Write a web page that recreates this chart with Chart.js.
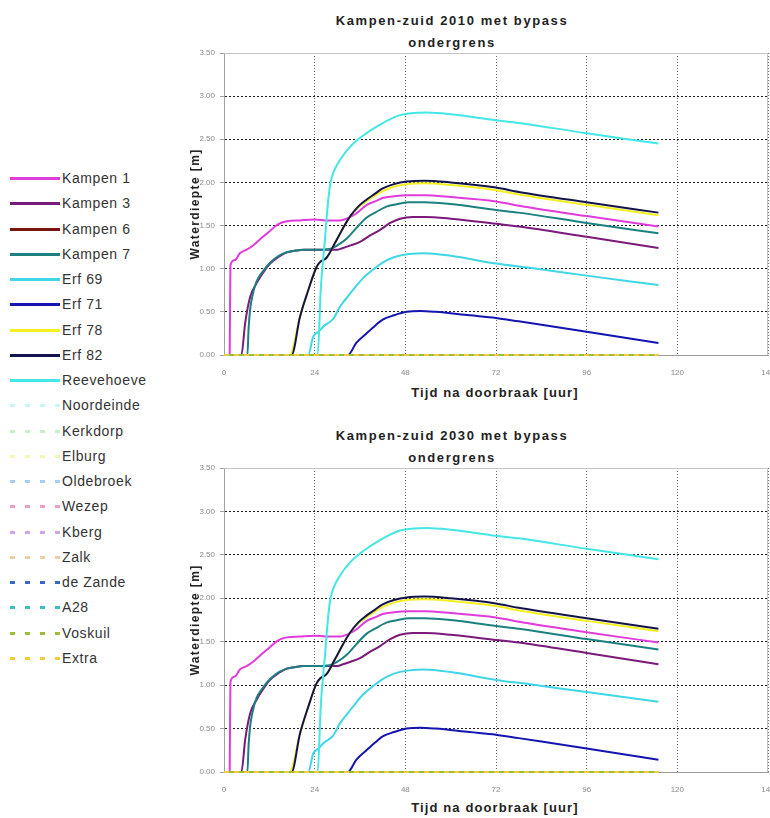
<!DOCTYPE html>
<html>
<head>
<meta charset="utf-8">
<script src="https://cdn.jsdelivr.net/npm/chart.js@4.4.0/dist/chart.umd.min.js"></script>
<style>
    body { margin: 0; background: #fff; width: 770px; height: 818px; overflow: hidden; position: relative; font-family: 'Liberation Sans', Arial, sans-serif; }
    .chart-box { position: absolute; left: 180px; width: 590px; }
    .title { position: absolute; left: 252px; width: 400px; text-align: center; font: bold 13px 'Liberation Sans', Arial, sans-serif; letter-spacing: 1.6px; color: #222; line-height: 22px; white-space: nowrap; }
    .xtitle { position: absolute; left: 345px; width: 300px; text-align: center; font: bold 13px 'Liberation Sans', Arial, sans-serif; letter-spacing: 1.1px; color: #222; line-height: 22px; white-space: nowrap; }
    .ytitle { position: absolute; left: 126px; width: 140px; height: 16px; line-height: 16px; text-align: center; font: bold 12px 'Liberation Sans', Arial, sans-serif; letter-spacing: 1.4px; color: #222; transform: rotate(-90deg); white-space: nowrap; }
    .leg-item { position: absolute; left: 0; height: 20px; width: 180px; }
    .leg-swatch { position: absolute; left: 10px; top: 9px; width: 50px; height: 3px; }
    .leg-text { position: absolute; left: 62px; top: 1px; font-size: 14px; line-height: 18px; color: #333; letter-spacing: 0.6px; white-space: nowrap; }
</style>
</head>
<body>

<div class="title" style="top:10px;">Kampen-zuid 2010 met bypass<br>ondergrens</div>
<div class="chart-box" style="top:0px; height:380px;"><canvas id="chart2010" width="590" height="380"></canvas></div>
<div class="ytitle" style="top:196px;">Waterdiepte [m]</div>
<div class="xtitle" style="top:382px;">Tijd na doorbraak [uur]</div>

<div class="title" style="top:425px;">Kampen-zuid 2030 met bypass<br>ondergrens</div>
<div class="chart-box" style="top:415px; height:382px;"><canvas id="chart2030" width="590" height="382"></canvas></div>
<div class="ytitle" style="top:612px;">Waterdiepte [m]</div>
<div class="xtitle" style="top:797px;">Tijd na doorbraak [uur]</div>

<div id="legend"></div>

<script>
// Tijd na doorbraak [uur] / waterdiepte [m] per locatie (both scenarios look identical)
const kampen1Time  = [0, 1.5, 1.7, 2.9, 4.2, 6, 7.7, 10.3, 12, 13.5, 15, 16.7, 20, 24, 27, 29, 30.7, 33, 35, 37.8, 40, 42, 45, 49, 53, 60, 72, 78, 96, 115];
const kampen1Depth = [0, 0, 1.04, 1.10, 1.18, 1.22, 1.27, 1.37, 1.43, 1.49, 1.53, 1.55, 1.56, 1.57, 1.56, 1.56, 1.56, 1.59, 1.64, 1.74, 1.78, 1.82, 1.84, 1.85, 1.85, 1.83, 1.78, 1.73, 1.61, 1.49];

const kampen3Time  = [0, 4.6, 5.6, 6.9, 8.6, 10.3, 12.2, 14.5, 16.6, 19, 21, 24, 28, 30, 31.5, 33.5, 36, 38.5, 41.3, 44, 46.6, 50, 53, 60, 72, 78, 96, 115];
const kampen3Depth = [0, 0, 0.37, 0.67, 0.83, 0.95, 1.06, 1.14, 1.19, 1.21, 1.22, 1.22, 1.22, 1.22, 1.24, 1.27, 1.31, 1.38, 1.45, 1.53, 1.58, 1.60, 1.60, 1.58, 1.52, 1.49, 1.37, 1.24];

const kampen6Time  = [0, 115];
const kampen6Depth = [0, 0];

const kampen7Time  = [0, 6.2, 6.5, 6.9, 7.5, 8.6, 10.3, 12.2, 14.5, 16.6, 19, 21, 24, 28, 30, 32.5, 35, 37.7, 40, 43, 46, 49, 53, 60, 72, 78, 96, 115];
const kampen7Depth = [0, 0, 0.30, 0.52, 0.68, 0.85, 0.97, 1.07, 1.15, 1.19, 1.21, 1.22, 1.22, 1.23, 1.27, 1.35, 1.47, 1.59, 1.65, 1.72, 1.75, 1.77, 1.77, 1.75, 1.68, 1.65, 1.53, 1.41];

const erf69Time  = [0, 22.3, 23.6, 25, 26.3, 28.9, 30.7, 33, 35, 37, 39.5, 42, 44.8, 49, 53, 60, 72, 81, 96, 115];
const erf69Depth = [0, 0, 0.21, 0.27, 0.33, 0.42, 0.56, 0.69, 0.80, 0.90, 0.99, 1.07, 1.13, 1.17, 1.18, 1.15, 1.06, 1.01, 0.92, 0.81];

const erf71Time  = [0, 32.8, 35, 37.7, 40, 42, 45, 48.3, 52, 56, 65, 72, 78, 96, 115];
const erf71Depth = [0, 0, 0.14, 0.25, 0.34, 0.41, 0.46, 0.50, 0.51, 0.50, 0.46, 0.43, 0.39, 0.27, 0.14];

const erf78Time  = [0, 17.4, 20.1, 22.3, 24.5, 25.5, 27.2, 29.4, 31.5, 33.3, 35.5, 37.7, 40, 42, 45, 48.3, 53, 60, 72, 78, 96, 115];
const erf78Depth = [0, 0, 0.44, 0.75, 1.02, 1.08, 1.13, 1.30, 1.47, 1.60, 1.71, 1.78, 1.85, 1.90, 1.95, 1.98, 1.99, 1.97, 1.91, 1.86, 1.74, 1.62];

const erf82Time  = [0, 17.9, 20.1, 22.3, 24.5, 25.5, 27.2, 29.4, 31.5, 33.3, 35.5, 37.7, 40, 42, 45, 48.3, 53, 60, 72, 78, 96, 115];
const erf82Depth = [0, 0, 0.44, 0.75, 1.02, 1.08, 1.13, 1.30, 1.47, 1.60, 1.72, 1.80, 1.87, 1.93, 1.98, 2.01, 2.02, 2.00, 1.94, 1.89, 1.77, 1.65];

const reeveTime  = [0, 24.8, 25.6, 26.7, 27.6, 28.2, 29, 30.7, 33.3, 36.4, 41.3, 46.6, 53.6, 60, 72, 78, 96, 115];
const reeveDepth = [0, 0, 0.75, 1.33, 1.80, 2.00, 2.12, 2.26, 2.41, 2.53, 2.67, 2.78, 2.81, 2.79, 2.72, 2.69, 2.57, 2.45];

// overige locaties blijven droog
const dryTime  = [0, 115];
const dryDepth = [0, 0];

const solidNames  = ['Kampen 1', 'Kampen 3', 'Kampen 6', 'Kampen 7', 'Erf 69', 'Erf 71', 'Erf 78', 'Erf 82', 'Reevehoeve'];
const solidColors = ['#e03cdc', '#7a1a7a', '#7a1414', '#1c8080', '#40d6e6', '#1414b0', '#f4f020', '#14144c', '#44e6e6'];
const dashedNames  = ['Noordeinde', 'Kerkdorp', 'Elburg', 'Oldebroek', 'Wezep', 'Kberg', 'Zalk', 'de Zande', 'A28', 'Voskuil', 'Extra'];
const dashedColors = ['#ccf6f6', '#c8efc8', '#f6f6b0', '#a8cdee', '#ee9ec6', '#cfa6ee', '#eecea6', '#3a66c4', '#3ebebe', '#9cbc3a', '#eecc3a'];

const xTicks = [0, 24, 48, 72, 96, 120, 144];
const yTicks = [0, 0.5, 1, 1.5, 2, 2.5, 3, 3.5];

const solidTimes  = [kampen1Time, kampen3Time, kampen6Time, kampen7Time, erf69Time, erf71Time, erf78Time, erf82Time, reeveTime];
const solidDepths = [kampen1Depth, kampen3Depth, kampen6Depth, kampen7Depth, erf69Depth, erf71Depth, erf78Depth, erf82Depth, reeveDepth];

function buildDatasets() {
    const sets = [];
    solidNames.forEach((name, i) => {
        sets.push({
            label: name,
            data: solidTimes[i].map((t, j) => ({ x: t, y: solidDepths[i][j] })),
            borderColor: solidColors[i],
            borderWidth: 2
        });
    });
    dashedNames.forEach((name, i) => {
        sets.push({
            label: name,
            data: dryTime.map((t, j) => ({ x: t, y: dryDepth[j] })),
            borderColor: dashedColors[i],
            borderWidth: 2,
            borderDash: [5, 5],
            borderDashOffset: ((dashedNames.length - 1 - i) % 2) * 5
        });
    });
    // excel draws later series on top
    sets.forEach((s, i) => {
        s.order = sets.length - i;
        s.pointRadius = 0;
        s.cubicInterpolationMode = 'monotone';
        s.fill = false;
        s.clip = 3;
    });
    return sets;
}

const framePlugin = {
    id: 'frame',
    beforeDatasetsDraw(chart) {
        const { ctx, chartArea: a } = chart;
        ctx.save();
        ctx.strokeStyle = '#c4c4c4';
        ctx.lineWidth = 1;
        ctx.beginPath();
        ctx.moveTo(a.left, a.top + 0.5);
        ctx.lineTo(a.right - 0.5, a.top + 0.5);
        ctx.lineTo(a.right - 0.5, a.bottom);
        ctx.stroke();
        ctx.restore();
    }
};

const tickFont = { family: "'Liberation Sans', Arial, sans-serif", size: 8 };

function makeChart(id) {
    return new Chart(document.getElementById(id), {
        type: 'line',
        data: { datasets: buildDatasets() },
        plugins: [framePlugin],
        options: {
            responsive: false,
            animation: false,
            layout: { padding: { top: 53, left: 0, right: 2, bottom: 5 } },
            plugins: { legend: { display: false }, tooltip: { enabled: false } },
            scales: {
                x: {
                    type: 'linear',
                    min: 0, max: 144,
                    afterBuildTicks: s => { s.ticks = xTicks.map(v => ({ value: v })); },
                    ticks: { color: '#8a8a8a', font: tickFont, padding: 13, maxRotation: 0 },
                    grid: { color: '#6a6a6a', drawTicks: false },
                    border: { display: true, color: '#9a9a9a', dash: [1, 2] },
                    afterFit: s => { s.height = 20; s.paddingLeft = 0; s.paddingRight = 0; }
                },
                y: {
                    min: 0, max: 3.5,
                    afterBuildTicks: s => { s.ticks = yTicks.map(v => ({ value: v })); },
                    ticks: { color: '#8a8a8a', font: tickFont, padding: 5, callback: v => v.toFixed(2) },
                    grid: { color: '#1e1e1e', tickLength: 4, tickColor: '#a0a0a0' },
                    border: { display: true, color: '#a0a0a0', dash: [2, 2] },
                    afterFit: s => { s.width = 44; s.paddingTop = 0; s.paddingBottom = 0; }
                }
            }
        }
    });
}

function buildLegend() {
    const box = document.getElementById('legend');
    const items = solidNames.map((n, i) => ({ name: n, color: solidColors[i], dashed: false }))
        .concat(dashedNames.map((n, i) => ({ name: n, color: dashedColors[i], dashed: true })));
    box.innerHTML = items.map((it, i) => {
        const bg = it.dashed
            ? `repeating-linear-gradient(to right, ${it.color} 0 5px, transparent 5px 15px)`
            : it.color;
        return `<div class="leg-item" style="top:${Math.round(168 + i * 25.26)}px;">
            <div class="leg-swatch" style="background:${bg};"></div>
            <div class="leg-text">${it.name}</div>
        </div>`;
    }).join('');
}

buildLegend();
makeChart('chart2010');
makeChart('chart2030');
</script>
</body>
</html>
